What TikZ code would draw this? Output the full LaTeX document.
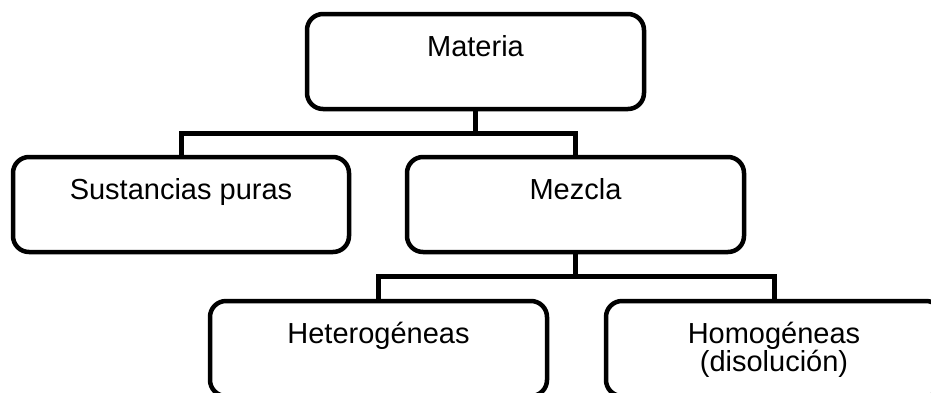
\documentclass[tikz,border=0pt]{standalone}
\usepackage{fontspec}
\setmainfont{Liberation Sans}
\begin{document}
\begin{tikzpicture}[x=1pt,y=-1pt,
  box/.style={draw, line width=4.5pt, rounded corners=16pt, inner sep=0pt, outer sep=0pt,
    minimum width=337pt, text height=42pt, text depth=53pt, anchor=north west,
    font=\fontsize{29}{28}\selectfont},
  link/.style={line width=5pt, line join=miter}]
\useasboundingbox (0,0) rectangle (931,392);
\clip (0,0) rectangle (931,392);

% boxes of the classification tree
\node[box] (mat) at (307,14) {Materia};
\node[box, minimum width=336pt] (sp) at (13,157) {Sustancias puras};
\node[box] (mz) at (407,157) {Mezcla};
\node[box] (het) at (210,301) {Heterogéneas};
\node[box, minimum width=336pt] (hom) at (606,301)
  {\vtop{\baselineskip=28pt\lineskiplimit=-100pt
    \halign{\hfil#\hfil\cr Homogéneas\cr (disolución)\cr}}};

% bus lines joining each parent to its children
\coordinate (bus1) at (0,133);
\coordinate (bus2) at (0,276);
\draw[link] (mat.south) -- (mat.south |- bus1);
\draw[link] (sp.north) |- (mz.north |- bus1) -- (mz.north);
\draw[link] (mz.south) -- (mz.south |- bus2);
\draw[link] (het.north) |- (hom.north |- bus2) -- (hom.north);
\end{tikzpicture}
\end{document}
